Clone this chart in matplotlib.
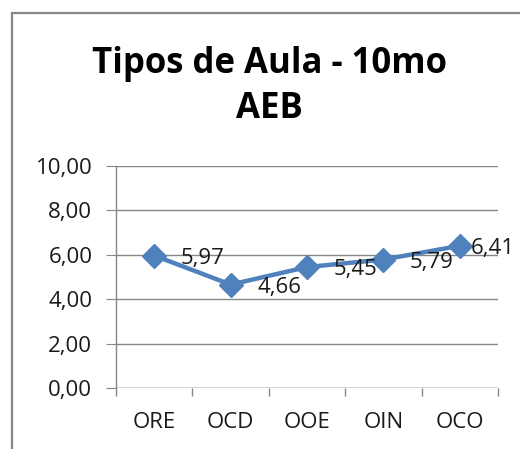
import matplotlib
matplotlib.use("Agg")
import matplotlib.pyplot as plt
from matplotlib.lines import Line2D

# datos del grafico
categorias = ["ORE", "OCD", "OOE", "OIN", "OCO"]
valores = [5.97, 4.66, 5.45, 5.79, 6.41]
y_ticks = [0, 2, 4, 6, 8, 10]

azul = "#4F81BD"
gris = "#868686"

plt.rcParams["font.family"] = ["Open Sans", "DejaVu Sans"]

fig = plt.figure(figsize=(5.2, 4.49), dpi=100)
ax = fig.add_axes([0.223, 0.136, 0.735, 0.494])

x = range(len(categorias))
ax.plot(x, valores, color=azul, linewidth=3.2, marker="D", markersize=12.5,
        markeredgecolor=azul, markerfacecolor=azul, zorder=3, clip_on=False)

# etiquetas de datos a la derecha de cada punto
# (la ultima se pega al marcador para no salirse, como hace Excel)
for i, v in enumerate(valores):
    dx = 19 if i < len(valores) - 1 else 8
    ax.annotate(f"{v:.2f}".replace(".", ","), (i, v), xytext=(dx, -2),
                textcoords="offset points", ha="left", va="center",
                fontsize=16, color="#1a1a1a", zorder=4)

ax.set_xlim(-0.5, len(categorias) - 0.5)
ax.set_ylim(0, 10)
ax.set_yticks(y_ticks)
ax.set_yticklabels([f"{t:.2f}".replace(".", ",") for t in y_ticks])
ax.set_xticks([i for i in x])
ax.set_xticklabels(categorias)
ax.set_xticks([i - 0.5 for i in range(len(categorias) + 1)], minor=True)

ax.grid(axis="y", color=gris, linewidth=1)
ax.set_axisbelow(True)
for s in ["top", "right", "bottom"]:
    ax.spines[s].set_visible(False)
ax.spines["left"].set_color(gris)
ax.spines["left"].set_linewidth(1)
ax.axhline(0, color=gris, linewidth=1, zorder=2)

ax.tick_params(axis="y", length=7, color=gris, labelsize=16, pad=10,
               labelcolor="#1a1a1a")
ax.tick_params(axis="x", which="major", length=0, labelsize=16, pad=17,
               labelcolor="#1a1a1a")
ax.tick_params(axis="x", which="minor", length=6, color=gris, width=1)

fig.text(0.519, 0.858, "Tipos de Aula - 10mo", ha="center", va="center",
         fontsize=25, fontweight="bold")
fig.text(0.519, 0.758, "AEB", ha="center", va="center",
         fontsize=25, fontweight="bold")

# borde del area del grafico (recortado)
fig.add_artist(Line2D([12 / 520, 12 / 520], [0, 1 - 13 / 449],
                      transform=fig.transFigure, color="#888888", linewidth=1.6))
fig.add_artist(Line2D([12 / 520, 1], [1 - 13 / 449, 1 - 13 / 449],
                      transform=fig.transFigure, color="#888888", linewidth=1.6))

fig.savefig("out.png", dpi=100)
